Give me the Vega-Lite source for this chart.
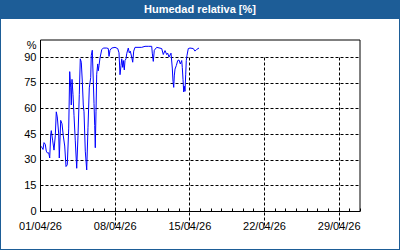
{
  "$schema": "https://vega.github.io/schema/vega-lite/v6.json",
  "background": "#1d5d97",
  "padding": {"left": 1, "top": 0, "right": 1, "bottom": 1},
  "spacing": 0,
  "config": {"view": {"stroke": null}, "font": "Liberation Sans"},
  "vconcat": [
    {
      "width": 398,
      "height": 19,
      "data": {"values": [{"titulo": "Humedad relativa [%]"}]},
      "mark": {"type": "text", "color": "white", "font": "Liberation Sans", "fontWeight": "bold", "fontSize": 11, "align": "center", "baseline": "middle"},
      "encoding": {"text": {"field": "titulo"}}
    },
    {
      "width": 398,
      "height": 230,
      "view": {"fill": "white", "stroke": null},
      "layer": [
        {
          "data": {"values": [
            {"fecha": "2026-04-01T01:35", "hr": 38},
            {"fecha": "2026-04-01T04:30", "hr": 37},
            {"fecha": "2026-04-01T06:45", "hr": 36},
            {"fecha": "2026-04-01T09:00", "hr": 40},
            {"fecha": "2026-04-01T11:55", "hr": 39},
            {"fecha": "2026-04-01T14:10", "hr": 35},
            {"fecha": "2026-04-01T16:25", "hr": 34},
            {"fecha": "2026-04-01T19:35", "hr": 34},
            {"fecha": "2026-04-01T21:50", "hr": 31},
            {"fecha": "2026-04-02T00:05", "hr": 44.5},
            {"fecha": "2026-04-02T01:25", "hr": 47},
            {"fecha": "2026-04-02T04:35", "hr": 41},
            {"fecha": "2026-04-02T07:30", "hr": 35.6},
            {"fecha": "2026-04-02T10:25", "hr": 44},
            {"fecha": "2026-04-02T12:40", "hr": 58},
            {"fecha": "2026-04-02T14:55", "hr": 55},
            {"fecha": "2026-04-02T18:05", "hr": 45},
            {"fecha": "2026-04-02T19:25", "hr": 31},
            {"fecha": "2026-04-02T22:35", "hr": 53},
            {"fecha": "2026-04-03T01:30", "hr": 51},
            {"fecha": "2026-04-03T04:25", "hr": 44},
            {"fecha": "2026-04-03T07:35", "hr": 38},
            {"fecha": "2026-04-03T10:30", "hr": 26},
            {"fecha": "2026-04-03T13:25", "hr": 27},
            {"fecha": "2026-04-03T16:35", "hr": 48},
            {"fecha": "2026-04-03T18:50", "hr": 81.5},
            {"fecha": "2026-04-03T21:05", "hr": 72},
            {"fecha": "2026-04-03T22:25", "hr": 62},
            {"fecha": "2026-04-04T00:00", "hr": 77},
            {"fecha": "2026-04-04T02:15", "hr": 68},
            {"fecha": "2026-04-04T04:30", "hr": 56},
            {"fecha": "2026-04-04T07:25", "hr": 41},
            {"fecha": "2026-04-04T10:35", "hr": 25},
            {"fecha": "2026-04-04T13:30", "hr": 44},
            {"fecha": "2026-04-04T16:25", "hr": 68},
            {"fecha": "2026-04-04T18:40", "hr": 89},
            {"fecha": "2026-04-04T20:55", "hr": 87},
            {"fecha": "2026-04-04T23:10", "hr": 76},
            {"fecha": "2026-04-05T01:25", "hr": 62},
            {"fecha": "2026-04-05T03:00", "hr": 58},
            {"fecha": "2026-04-05T05:55", "hr": 35},
            {"fecha": "2026-04-05T09:05", "hr": 24},
            {"fecha": "2026-04-05T12:00", "hr": 49},
            {"fecha": "2026-04-05T14:55", "hr": 72},
            {"fecha": "2026-04-05T18:05", "hr": 78},
            {"fecha": "2026-04-05T19:25", "hr": 91},
            {"fecha": "2026-04-05T21:40", "hr": 94},
            {"fecha": "2026-04-05T23:55", "hr": 76},
            {"fecha": "2026-04-06T01:30", "hr": 63},
            {"fecha": "2026-04-06T03:05", "hr": 50},
            {"fecha": "2026-04-06T04:25", "hr": 37},
            {"fecha": "2026-04-06T06:00", "hr": 58},
            {"fecha": "2026-04-06T07:35", "hr": 80},
            {"fecha": "2026-04-06T09:50", "hr": 86},
            {"fecha": "2026-04-06T11:10", "hr": 82},
            {"fecha": "2026-04-06T12:45", "hr": 85},
            {"fecha": "2026-04-06T15:00", "hr": 89.5},
            {"fecha": "2026-04-06T18:50", "hr": 94.3},
            {"fecha": "2026-04-06T22:25", "hr": 95.3},
            {"fecha": "2026-04-07T06:05", "hr": 95.3},
            {"fecha": "2026-04-07T09:40", "hr": 95},
            {"fecha": "2026-04-07T11:15", "hr": 90.4},
            {"fecha": "2026-04-07T13:30", "hr": 94},
            {"fecha": "2026-04-07T17:20", "hr": 95.3},
            {"fecha": "2026-04-08T00:45", "hr": 95.7},
            {"fecha": "2026-04-08T06:50", "hr": 95},
            {"fecha": "2026-04-08T09:45", "hr": 92.5},
            {"fecha": "2026-04-08T12:00", "hr": 79.7},
            {"fecha": "2026-04-08T14:15", "hr": 85},
            {"fecha": "2026-04-08T15:50", "hr": 89},
            {"fecha": "2026-04-08T18:05", "hr": 84},
            {"fecha": "2026-04-08T19:25", "hr": 88},
            {"fecha": "2026-04-08T21:40", "hr": 82.5},
            {"fecha": "2026-04-08T23:15", "hr": 88},
            {"fecha": "2026-04-09T01:30", "hr": 89},
            {"fecha": "2026-04-09T03:05", "hr": 92},
            {"fecha": "2026-04-09T06:40", "hr": 95.3},
            {"fecha": "2026-04-09T08:55", "hr": 92.5},
            {"fecha": "2026-04-09T11:10", "hr": 93.5},
            {"fecha": "2026-04-09T14:20", "hr": 90},
            {"fecha": "2026-04-09T16:35", "hr": 87},
            {"fecha": "2026-04-09T18:50", "hr": 93.5},
            {"fecha": "2026-04-09T21:45", "hr": 95.7},
            {"fecha": "2026-04-10T12:50", "hr": 95.7},
            {"fecha": "2026-04-10T20:15", "hr": 96.3},
            {"fecha": "2026-04-11T03:40", "hr": 96.3},
            {"fecha": "2026-04-11T11:20", "hr": 96.3},
            {"fecha": "2026-04-11T12:40", "hr": 92.3},
            {"fecha": "2026-04-11T14:55", "hr": 87.5},
            {"fecha": "2026-04-11T17:10", "hr": 94},
            {"fecha": "2026-04-11T22:35", "hr": 95.7},
            {"fecha": "2026-04-12T09:50", "hr": 95},
            {"fecha": "2026-04-12T13:25", "hr": 91.5},
            {"fecha": "2026-04-12T17:15", "hr": 93.8},
            {"fecha": "2026-04-12T21:05", "hr": 91.5},
            {"fecha": "2026-04-12T23:20", "hr": 92.3},
            {"fecha": "2026-04-13T02:15", "hr": 90},
            {"fecha": "2026-04-13T06:45", "hr": 92.3},
            {"fecha": "2026-04-13T09:40", "hr": 83.6},
            {"fecha": "2026-04-13T11:15", "hr": 75.8},
            {"fecha": "2026-04-13T12:50", "hr": 72.3},
            {"fecha": "2026-04-13T14:10", "hr": 79},
            {"fecha": "2026-04-13T15:45", "hr": 83},
            {"fecha": "2026-04-13T18:40", "hr": 85},
            {"fecha": "2026-04-13T21:50", "hr": 88},
            {"fecha": "2026-04-14T00:45", "hr": 88.3},
            {"fecha": "2026-04-14T03:40", "hr": 86},
            {"fecha": "2026-04-14T06:50", "hr": 88},
            {"fecha": "2026-04-14T08:10", "hr": 84},
            {"fecha": "2026-04-14T09:45", "hr": 77},
            {"fecha": "2026-04-14T11:20", "hr": 69.6},
            {"fecha": "2026-04-14T12:40", "hr": 73},
            {"fecha": "2026-04-14T14:15", "hr": 70},
            {"fecha": "2026-04-14T15:50", "hr": 80},
            {"fecha": "2026-04-14T17:10", "hr": 88},
            {"fecha": "2026-04-14T18:45", "hr": 91},
            {"fecha": "2026-04-14T21:40", "hr": 95},
            {"fecha": "2026-04-15T01:30", "hr": 95.3},
            {"fecha": "2026-04-15T08:55", "hr": 95},
            {"fecha": "2026-04-15T12:45", "hr": 93.5},
            {"fecha": "2026-04-15T16:35", "hr": 94.5},
            {"fecha": "2026-04-15T21:45", "hr": 95.3}
          ]},
          "mark": {"type": "line", "color": "#0000ff", "strokeWidth": 1},
          "encoding": {
            "x": {
              "field": "fecha", "type": "temporal",
              "scale": {"domain": [{"year": 2026, "month": 4, "date": 1}, {"year": 2026, "month": 5, "date": 1}], "range": [39, 359], "nice": false},
              "axis": {
                "orient": "bottom", "offset": -38, "domain": false, "title": null,
                "tickCount": {"interval": "day", "step": 1},
                "ticks": true, "tickSize": -3, "tickColor": "black", "tickWidth": 1,
                "labelExpr": "month(datum.value) == 3 && date(datum.value) % 7 == 1 ? timeFormat(datum.value, '%d/%m/%y') : ''",
                "labelFont": "Liberation Sans", "labelFontSize": 11, "labelColor": "black",
                "labelPadding": 12, "labelFlush": false, "labelOverlap": false, "labelBound": false,
                "grid": true, "gridColor": "black", "gridDash": [3, 2], "gridWidth": 1,
                "gridOpacity": {"condition": {"test": "month(datum.value) == 3 && date(datum.value) % 7 == 1 && date(datum.value) > 1", "value": 1}, "value": 0}
              }
            },
            "y": {
              "field": "hr", "type": "quantitative",
              "scale": {"domain": [0, 100], "range": [192, 21], "nice": false},
              "axis": {
                "orient": "left", "offset": -39, "domain": false, "ticks": false,
                "values": [0, 15, 30, 45, 60, 75, 90], "tickCount": 7,
                "labelFont": "Liberation Sans", "labelFontSize": 11, "labelColor": "black", "labelPadding": 4,
                "labelOverlap": false, "labelBound": false, "labelFlush": false,
                "grid": true, "gridColor": "black", "gridDash": [3, 2], "gridWidth": 1, "gridOpacity": 1,
                "title": "%", "titleAngle": 0, "titleX": -4, "titleY": 26, "titleAlign": "right", "titleBaseline": "middle",
                "titleFont": "Liberation Sans", "titleFontSize": 11, "titleFontWeight": "normal", "titleColor": "black"
              }
            }
          }
        },
        {
          "data": {"values": [{}]},
          "mark": {"type": "rect", "filled": false, "stroke": "black", "strokeWidth": 1, "xOffset": 0.5, "yOffset": 0.5},
          "encoding": {
            "x": {"datum": {"year": 2026, "month": 4, "date": 1}, "type": "temporal"},
            "x2": {"datum": {"year": 2026, "month": 5, "date": 1}},
            "y": {"datum": 0, "type": "quantitative"},
            "y2": {"datum": 100}
          }
        }
      ]
    }
  ]
}
